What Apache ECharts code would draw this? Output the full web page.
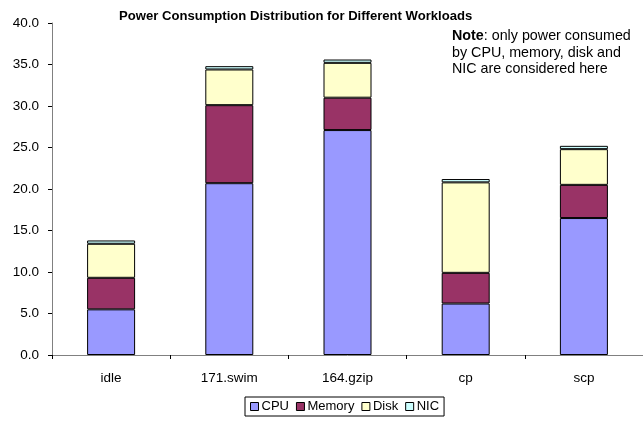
<!DOCTYPE html>
<html>
<head>
	<meta charset="utf-8">
	<title>Power Consumption</title>
	<style>
		html, body { margin: 0; padding: 0; background: #fff; }
		#chart { width: 643px; height: 425px; }
	</style>
	<script src="https://cdn.jsdelivr.net/npm/echarts@6/dist/echarts.min.js"></script>
</head>
<body>
	<div id="chart"></div>
<script>
// workloads on the x axis
var workloads = ['idle', '171.swim', '164.gzip', 'cp', 'scp'];
// power per component (stacked)
var cpu    = [5.5, 20.7, 27.1, 6.2, 16.5];
var memory = [3.8, 9.4, 3.9, 3.7, 4.0];
var disk   = [4.1, 4.3, 4.2, 10.9, 4.3];
var nic    = [0.4, 0.4, 0.4, 0.4, 0.4];
var yTicks = [0, 5, 10, 15, 20, 25, 30, 35, 40];

var font = "'Liberation Sans', Arial, sans-serif";

function makeSeries(name, data, color) {
	return {
		name: name,
		type: 'bar',
		stack: 'total',
		barWidth: 48,
		data: data,
		itemStyle: { color: color, borderColor: '#000', borderWidth: 1 }
	};
}

var myChart = echarts.init(document.getElementById('chart'));
var option = {
	animation: false,
	textStyle: { fontFamily: font },
	title: {
		text: 'Power Consumption Distribution for Different Workloads',
		left: 114,
		top: 5,
		textStyle: { fontSize: 13.1, fontWeight: 'bold', color: '#000', fontFamily: font }
	},
	graphic: [{
		type: 'text',
		left: 452,
		top: 28,
		style: {
			text: '{b|Note}: only power consumed\nby CPU, memory, disk and\nNIC are considered here',
			font: '14.3px ' + font,
			fill: '#000',
			lineHeight: 16.5,
			rich: {
				b: { fontWeight: 'bold', fontSize: 14.3, fontFamily: font }
			}
		}
	}],
	legend: {
		top: 397,
		left: 245,
		data: ['CPU', 'Memory', 'Disk', 'NIC'],
		icon: 'rect',
		itemWidth: 8,
		itemHeight: 8,
		itemGap: 7,
		padding: [3, 5],
		borderColor: '#000',
		borderWidth: 1,
		itemStyle: { borderColor: '#000', borderWidth: 1 },
		textStyle: { fontSize: 13, color: '#000', fontFamily: font, padding: [0, 0, 0, -2] }
	},
	grid: { left: 52, right: 0, top: 23, bottom: 70 },
	xAxis: {
		type: 'category',
		data: workloads,
		axisLine: { lineStyle: { color: '#808080', width: 1 } },
		axisTick: { show: true, length: 4, lineStyle: { color: '#000' } },
		axisLabel: { color: '#000', fontSize: 13.5, margin: 16, fontFamily: font }
	},
	yAxis: {
		type: 'value',
		min: yTicks[0],
		max: yTicks[yTicks.length - 1],
		interval: 5,
		splitLine: { show: false },
		axisLine: { show: true, lineStyle: { color: '#808080', width: 1 } },
		axisTick: { show: true, length: 4, lineStyle: { color: '#000' } },
		axisLabel: {
			color: '#000', fontSize: 13.5, margin: 13, fontFamily: font,
			formatter: function (v) { return v.toFixed(1); }
		}
	},
	series: [
		makeSeries('CPU', cpu, '#9999FF'),
		makeSeries('Memory', memory, '#993366'),
		makeSeries('Disk', disk, '#FFFFCC'),
		makeSeries('NIC', nic, '#CCFFFF')
	]
};
myChart.setOption(option);
</script>
</body>
</html>
